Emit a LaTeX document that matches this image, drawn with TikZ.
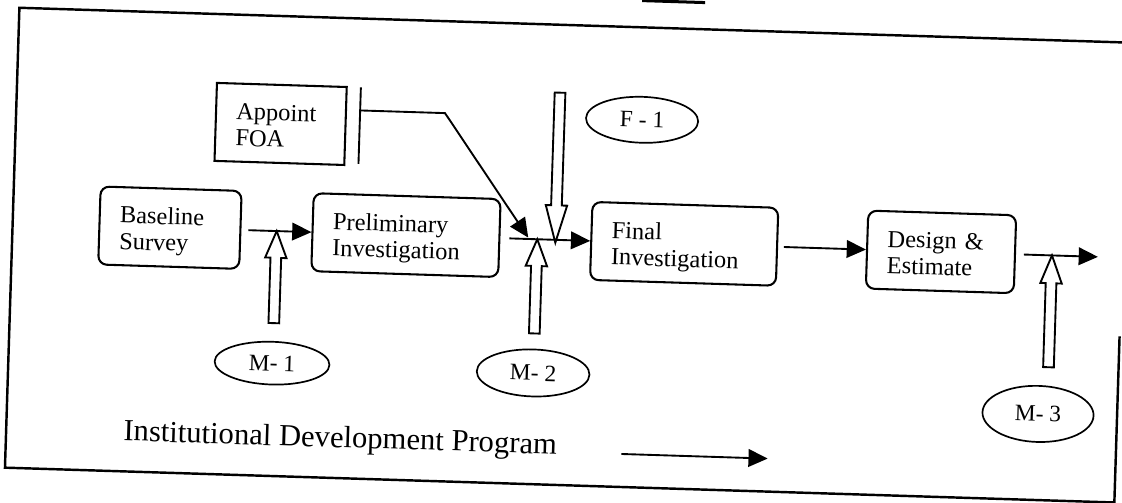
\documentclass[tikz,border=0pt]{standalone}
\usepackage{fontspec}
\setmainfont{Liberation Serif}
\usetikzlibrary{arrows.meta,calc,shapes.geometric}

\tikzset{
  stage/.style={draw, line width=1.1pt, rounded corners=1.6mm, align=left,
    inner xsep=3.8mm, inner ysep=0pt, text width=#1,
    text height=0.67cm, text depth=0.79cm, font=\fontsize{13}{14}\selectfont},
  task/.style={stage=#1, sharp corners},
  mile/.style={draw, ellipse, line width=0.9pt, inner sep=0pt, font=\fontsize{12.5}{14}\selectfont},
  flow/.style={line width=1pt, -{Triangle[length=3.6mm,width=3.3mm]}},
  fat/.style={draw, line width=1pt, fill=white, line join=miter},
  frame/.style={line width=1.3pt}
}

% hollow block arrow: [head length]{tail}{tip}
\newcommand{\fatarrow}[3][5mm]{%
  \coordinate (hb) at ($(#3)!#1!(#2)$);
  \draw[fat] ($(#2)!1mm!90:(#3)$) -- ($(hb)!1mm!90:(#3)$) -- ($(hb)!2mm!90:(#3)$) -- (#3)
    -- ($(hb)!2mm!-90:(#3)$) -- ($(hb)!1mm!-90:(#3)$) -- ($(#2)!1mm!-90:(#3)$) -- cycle;}

\begin{document}
\begin{tikzpicture}
  \useasboundingbox (0,0) rectangle (21.0,9.396);
  \begin{scope}[rotate around={-1.8:(10.5,4.7)}, transform shape]
    % frame
    \draw[frame] (21.0,3.43) -- (21.0,0.318) -- (0.225,0.318) -- (0.225,8.93) -- (21.0,8.93);
    \draw[line width=1.6pt] (11.87,9.43) -- (13.05,9.43);

    % stages
    \node[stage=1.88cm] (base) at (3.17,4.904) {Baseline\\Survey};
    \node[stage=2.74cm] (prelim) at (7.59,4.904) {Preliminary\\Investigation};
    \node[stage=2.72cm] (final) at (12.80,4.904) {Final\\Investigation};
    \node[stage=2.01cm] (design) at (17.61,4.904) {Design \&\\Estimate};
    \node[task=1.67cm] (foa) at (5.18,6.91) {Appoint\\FOA};

    % milestones
    \node[mile, minimum width=2.15cm, minimum height=0.80cm] (m1) at (5.16,2.43) {M- 1};
    \node[mile, minimum width=2.11cm, minimum height=0.88cm] (m2) at (10.05,2.40) {M- 2};
    \node[mile, minimum width=2.08cm, minimum height=1.05cm] (m3) at (19.52,1.93) {M- 3};
    \node[mile, minimum width=2.10cm, minimum height=0.86cm] (f1) at (11.94,7.20) {F - 1};

    \coordinate (m1 tail) at (5.17,3.18);
    \coordinate (m1 tip) at (5.17,4.904);
    \coordinate (m2 tail) at (10.05,3.14);
    \coordinate (m2 tip) at (10.05,4.904);
    \coordinate (m3 tail) at (19.69,2.81);
    \coordinate (m3 tip) at (19.69,4.904);
    \coordinate (f1 tail) at (10.39,7.66);
    \coordinate (f1 tip) at (10.39,4.85);

    \fatarrow{m1 tail}{m1 tip}
    \fatarrow{m2 tail}{m2 tip}
    \fatarrow[5.2mm]{m3 tail}{m3 tip}
    \fatarrow[7mm]{f1 tail}{f1 tip}

    % main flow
    \coordinate (out) at (20.55,4.904);
    \draw[flow] ([xshift=1.3mm]base.east) -- (prelim.west);
    \draw[flow] ([xshift=1.7mm]prelim.east) -- (final.west);
    \draw[flow] ([xshift=1.1mm]final.east) -- (design.west);
    \draw[flow] ([xshift=1.5mm]design.east) -- (out);

    % FOA input
    \draw[line width=1pt] (6.66,7.64) -- (6.66,6.21);
    \coordinate (foa bar) at (6.66,7.21);
    \coordinate (bend) at (8.25,7.21);
    \coordinate (foa tip) at (9.88,4.93);
    \draw[flow] (foa bar) -- (bend) -- (foa tip);

    % programme
    \node[font=\fontsize{16.3}{18}\selectfont] (prog) at (6.48,1.03) {Institutional Development Program};
    \coordinate (prog a) at (11.75,0.936);
    \coordinate (prog b) at (14.49,0.936);
    \draw[flow] (prog a) -- (prog b);
  \end{scope}
\end{tikzpicture}
\end{document}
